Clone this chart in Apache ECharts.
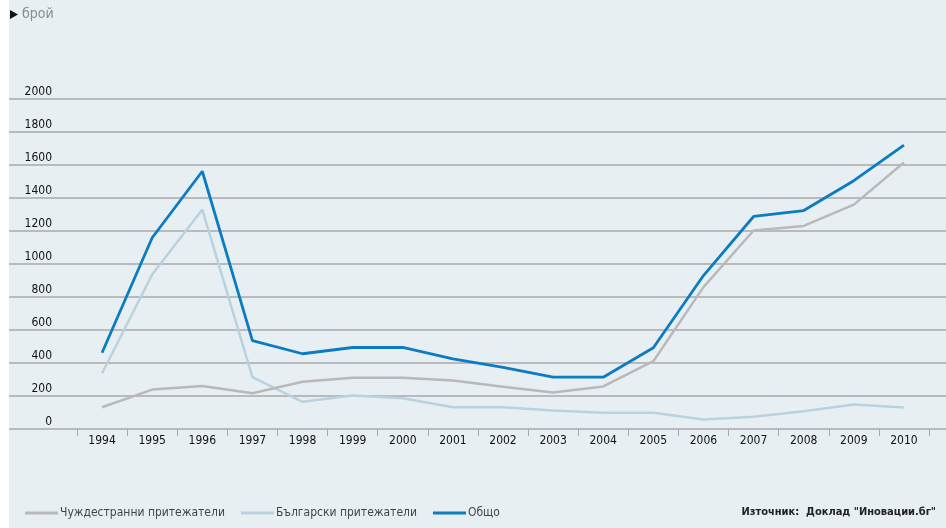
<!DOCTYPE html>
<html>
<head>
<meta charset="utf-8">
<script src="https://cdn.jsdelivr.net/npm/echarts@6/dist/echarts.min.js"></script>
<style>
  html, body { margin: 0; padding: 0; background: #ffffff; }
  #chart { width: 946px; height: 528px; }
</style>
</head>
<body>
<div id="chart"></div>
<script>
const years = ['1994', '1995', '1996', '1997', '1998', '1999', '2000', '2001', '2002',
  '2003', '2004', '2005', '2006', '2007', '2008', '2009', '2010']
const foreignOwners = [132, 239, 260, 217, 286, 310, 310, 294, 256, 221, 258, 411, 860, 1203, 1231, 1360, 1615]
const bulgarianOwners = [338, 936, 1330, 314, 165, 203, 187, 132, 132, 112, 98, 98, 58, 74, 108, 148, 130]
const totalOwners = [462, 1159, 1562, 536, 456, 494, 494, 425, 373, 314, 314, 492, 930, 1288, 1324, 1505, 1720]
const seriesNames = ['Чуждестранни притежатели', 'Български притежатели', 'Общо']
const yTicks = [0, 200, 400, 600, 800, 1000, 1200, 1400, 1600, 1800, 2000]

const font = '"DejaVu Sans Condensed", "Liberation Sans Narrow", sans-serif'
const chart = echarts.init(document.getElementById('chart'))

chart.setOption({
  backgroundColor: '#ffffff',
  animation: false,
  textStyle: { fontFamily: font },
  graphic: [
    { type: 'rect', z: -10, shape: { x: 9, y: 0, width: 937, height: 528 }, style: { fill: '#e8eff3' } },
    { type: 'polygon', shape: { points: [[10, 10], [18, 14.5], [10, 19]] }, style: { fill: '#111111' } },
    { type: 'text', left: 22, top: 7, style: { text: 'брой', font: '14px ' + font, fill: '#8c8c8c' } },
    {
      type: 'text', right: 10, top: 507,
      style: { text: 'Източник:  Доклад "Иновации.бг"', font: 'bold 11px ' + font, fill: '#222222' }
    }
  ],
  legend: {
    left: 25,
    top: 507,
    padding: 0,
    icon: 'rect',
    itemWidth: 33,
    itemHeight: 3,
    itemGap: 16,
    textStyle: { fontFamily: font, fontSize: 12, color: '#444444', padding: [0, 0, 0, -3] },
    data: seriesNames
  },
  grid: [
    { left: 9, right: 0, top: 99, height: 330 },
    { left: 77, width: 852, top: 99, height: 330 }
  ],
  xAxis: [
    { gridIndex: 0, type: 'value', show: false, min: 0, max: 1 },
    {
      gridIndex: 1,
      type: 'category',
      data: years,
      boundaryGap: true,
      axisLine: { show: false },
      axisTick: { show: true, length: 7, lineStyle: { color: '#a8a8a8', width: 1 } },
      axisLabel: { margin: 6, color: '#111111', fontSize: 12, fontFamily: font }
    }
  ],
  yAxis: [
    {
      gridIndex: 0,
      type: 'value',
      min: 0,
      max: 2000,
      interval: 200,
      axisLine: { show: false },
      axisTick: { show: false },
      axisLabel: { show: false },
      splitLine: { lineStyle: { color: '#a9a9a9', width: 1.5 } }
    },
    {
      gridIndex: 1,
      type: 'value',
      min: 0,
      max: 2000,
      interval: 200,
      axisLine: { show: false },
      axisTick: { show: false },
      splitLine: { show: false },
      axisLabel: {
        margin: 25,
        color: '#111111',
        fontSize: 12,
        fontFamily: font,
        verticalAlign: 'bottom',
        padding: [0, 0, 1, 0],
        formatter: (v) => (yTicks.includes(v) ? String(v) : '')
      }
    }
  ],
  series: [
    {
      name: seriesNames[0], type: 'line', xAxisIndex: 1, yAxisIndex: 1,
      data: foreignOwners, symbol: 'none', z: 3,
      lineStyle: { color: '#b9b9b9', width: 2.5 }, itemStyle: { color: '#b9b9b9' }
    },
    {
      name: seriesNames[1], type: 'line', xAxisIndex: 1, yAxisIndex: 1,
      data: bulgarianOwners, symbol: 'none', z: 2,
      lineStyle: { color: '#b8d2df', width: 2.5 }, itemStyle: { color: '#b8d2df' }
    },
    {
      name: seriesNames[2], type: 'line', xAxisIndex: 1, yAxisIndex: 1,
      data: totalOwners, symbol: 'none', z: 4,
      lineStyle: { color: '#0b7cc2', width: 2.8 }, itemStyle: { color: '#0b7cc2' }
    }
  ]
})
</script>
</body>
</html>
